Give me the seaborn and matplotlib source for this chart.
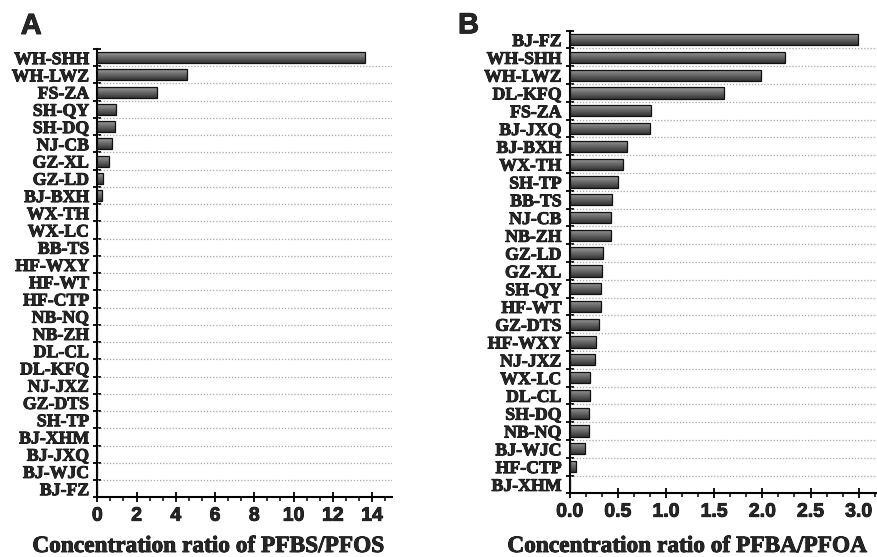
import numpy as np
import pandas as pd
import matplotlib
matplotlib.use("Agg")
import matplotlib.pyplot as plt
import matplotlib.patheffects as pe
from matplotlib.ticker import AutoMinorLocator, FixedLocator, MultipleLocator, FormatStrFormatter
import seaborn as sns

# ---- data ----
sites_a = ["WH-SHH", "WH-LWZ", "FS-ZA", "SH-QY", "SH-DQ", "NJ-CB", "GZ-XL", "GZ-LD",
           "BJ-BXH", "WX-TH", "WX-LC", "BB-TS", "HF-WXY", "HF-WT", "HF-CTP", "NB-NQ",
           "NB-ZH", "DL-CL", "DL-KFQ", "NJ-JXZ", "GZ-DTS", "SH-TP", "BJ-XHM", "BJ-JXQ",
           "BJ-WJC", "BJ-FZ"]
ratio_a = [13.66, 4.55, 3.04, 0.94, 0.88, 0.75, 0.60, 0.29,
           0.22, 0, 0, 0, 0, 0, 0, 0,
           0, 0, 0, 0, 0, 0, 0, 0,
           0, 0]

sites_b = ["BJ-FZ", "WH-SHH", "WH-LWZ", "DL-KFQ", "FS-ZA", "BJ-JXQ", "BJ-BXH", "WX-TH",
           "SH-TP", "BB-TS", "NJ-CB", "NB-ZH", "GZ-LD", "GZ-XL", "SH-QY", "HF-WT",
           "GZ-DTS", "HF-WXY", "NJ-JXZ", "WX-LC", "DL-CL", "SH-DQ", "NB-NQ", "BJ-WJC",
           "HF-CTP", "BJ-XHM"]
ratio_b = [2.99, 2.23, 1.99, 1.60, 0.84, 0.83, 0.60, 0.55,
           0.50, 0.44, 0.43, 0.43, 0.35, 0.335, 0.325, 0.32,
           0.30, 0.27, 0.26, 0.21, 0.21, 0.20, 0.20, 0.16,
           0.065, 0]

xlabel_a = "Concentration ratio of PFBS/PFOS"
xlabel_b = "Concentration ratio of PFBA/PFOA"

df_a = pd.DataFrame({"site": sites_a, "ratio": ratio_a})
df_b = pd.DataFrame({"site": sites_b, "ratio": ratio_b})

sns.set_style("white")
W, H = 877, 557
fig = plt.figure(figsize=(W / 100, H / 100), dpi=100)

thick = [pe.withStroke(linewidth=0.6, foreground="black")]

grad = np.concatenate([np.linspace(0.45, 0.55, 10),
                       np.linspace(0.55, 0.20, 54)]).reshape(-1, 1)


def style_text(t, family, size):
    t.set_fontfamily(family)
    t.set_fontweight("bold")
    t.set_fontsize(size)
    t.set_path_effects(thick)


def draw(ax, df, xmax, major, xlabel, label_x):
    sns.barplot(data=df, x="ratio", y="site", orient="h", color="#555555",
                width=0.63, edgecolor="#111111", linewidth=0.9, ax=ax, zorder=3)
    n = len(df)
    for p in ax.patches:
        x0, y0 = p.get_x(), p.get_y()
        w, h = p.get_width(), p.get_height()
        if w <= 0:
            continue
        im = ax.imshow(grad, cmap="gray", vmin=0, vmax=1, aspect="auto",
                       extent=(x0, x0 + w, y0 + h, y0), zorder=3.5,
                       interpolation="bilinear")
        im.set_clip_path(p)
        p.set_facecolor("none")
        p.set_zorder(4)
    ax.set_xlim(0, xmax)
    ax.set_ylim(n - 0.5, -0.5)
    for b in np.arange(0.5, n - 0.5, 1.0):
        ax.axhline(b, color="#a8a8a8", lw=0.9, ls=(0, (1, 1.5)), zorder=1)
    ax.xaxis.set_major_locator(MultipleLocator(major))
    ax.xaxis.set_minor_locator(AutoMinorLocator(3))
    ax.yaxis.set_minor_locator(FixedLocator(np.arange(-0.5, n, 1.0)))
    ax.tick_params(axis="y", which="major", length=0, pad=6)
    ax.tick_params(axis="y", which="minor", direction="inout", length=6,
                   width=1.3, color="black", left=True)
    ax.tick_params(axis="x", which="major", direction="inout", length=7,
                   width=1.3, color="black", pad=4, bottom=True)
    ax.tick_params(axis="x", which="minor", direction="out", length=3,
                   width=1.1, color="black", bottom=True)
    for s in ["top", "right"]:
        ax.spines[s].set_visible(False)
    for s in ["left", "bottom"]:
        ax.spines[s].set_color("black")
        ax.spines[s].set_linewidth(1.5)
    ax.set_xlabel("")
    ax.set_ylabel("")
    t = fig.text(label_x / W, 1 - 552 / H, xlabel, ha="center", va="baseline")
    style_text(t, "Liberation Serif", 16.8)


ax_a = fig.add_axes([97.3 / W, 1 - 497.3 / H, 294.4 / W, 448.3 / H])
draw(ax_a, df_a, 15, 2, xlabel_a, 208)
ax_b = fig.add_axes([569.7 / W, 1 - 493.3 / H, 307.3 / W, 462.6 / H])
draw(ax_b, df_b, 3.19, 0.5, xlabel_b, 687)
ax_b.xaxis.set_major_formatter(FormatStrFormatter("%.1f"))

fig.canvas.draw()
for ax in (ax_a, ax_b):
    for t in ax.get_yticklabels():
        style_text(t, "Liberation Serif", 12.8)
    for t in ax.get_xticklabels():
        style_text(t, "Liberation Sans", 14)

for txt, x, y in (("A", 20.7, 34), ("B", 458, 33.3)):
    t = fig.text(x / W, 1 - y / H, txt, ha="left", va="baseline")
    style_text(t, "Liberation Sans", 21)

fig.savefig("out.png", dpi=100)
